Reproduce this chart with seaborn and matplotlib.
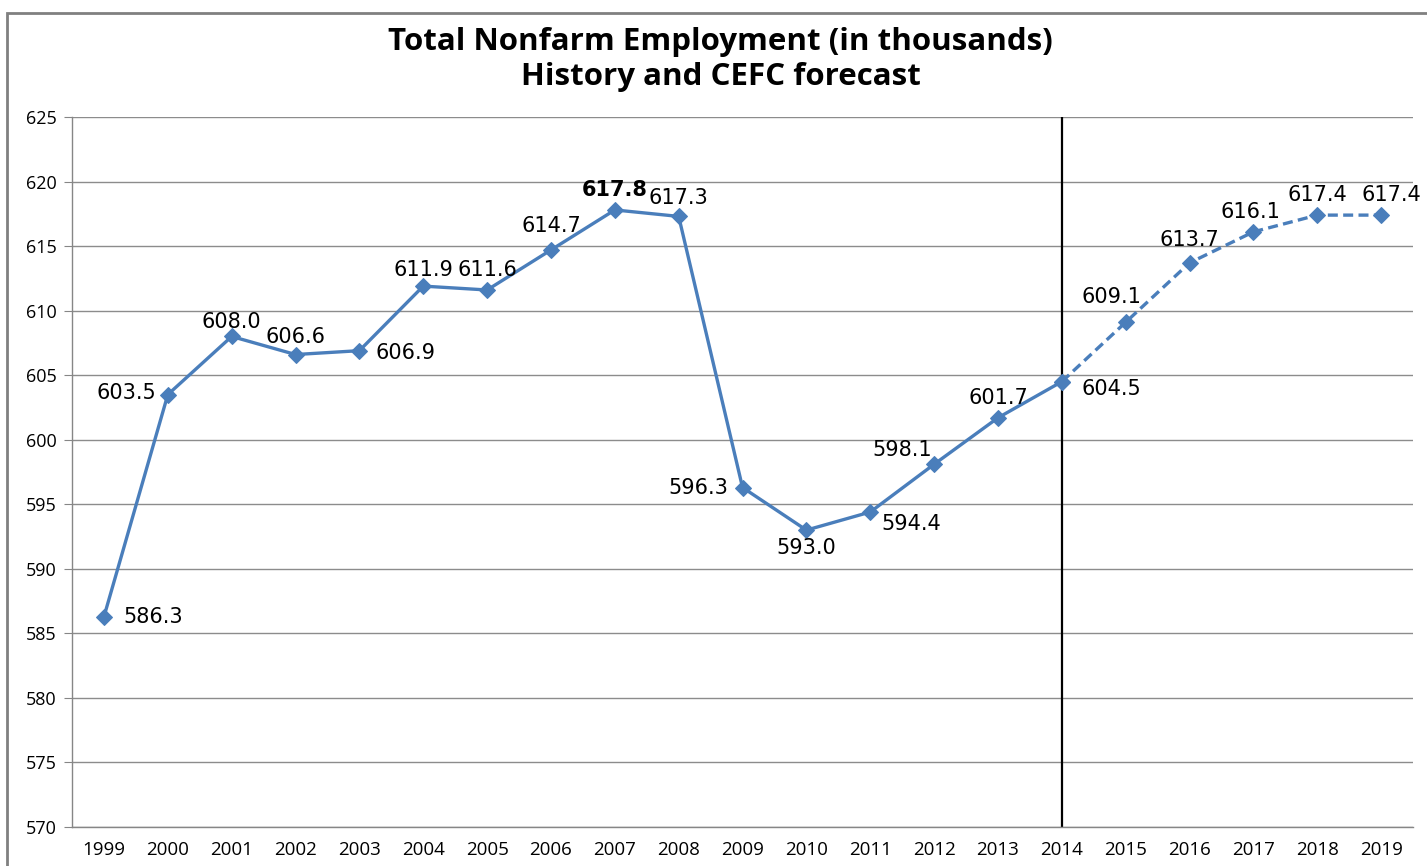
import numpy as np
import pandas as pd
import matplotlib
matplotlib.use("Agg")
import matplotlib.pyplot as plt
import seaborn as sns
from matplotlib.patches import Rectangle

# Data
years = [str(y) for y in range(1999, 2020)]
employment = [586.3, 603.5, 608.0, 606.6, 606.9, 611.9, 611.6, 614.7, 617.8, 617.3,
              596.3, 593.0, 594.4, 598.1, 601.7, 604.5, 609.1, 613.7, 616.1, 617.4, 617.4]
forecast_start = "2014"
y_ticks = list(range(570, 630, 5))

# label offsets in pixels (dx, dy, ha)
label_pos = [(19, 0, "left"), (-12, 2, "right"), (0, 14, "center"), (0, 18, "center"),
             (16, -2, "left"), (0, 16, "center"), (0, 20, "center"), (0, 24, "center"),
             (0, 20, "center"), (0, 18, "center"), (-14, 0, "right"), (0, -18, "center"),
             (11, -12, "left"), (-2, 14, "right"), (0, 20, "center"), (20, -7, "left"),
             (-14, 25, "center"), (0, 23, "center"), (-3, 20, "center"), (0, 20, "center"),
             (10, 20, "center")]

df = pd.DataFrame({"year": years, "value": employment})
df["pos"] = np.arange(len(df))
split = years.index(forecast_start)
hist = df.iloc[:split + 1]
fcst = df.iloc[split:]

sns.set_style("white")
plt.rcParams["font.family"] = ["Open Sans", "DejaVu Sans"]
plt.rcParams["text.color"] = "black"
plt.rcParams["xtick.color"] = "black"
plt.rcParams["ytick.color"] = "black"

fig = plt.figure(figsize=(14.27, 8.66), dpi=100)
ax = fig.add_axes([0.0505, 0.045, 0.9397, 0.8199])

color = "#4A7EBB"
sns.lineplot(data=hist, x="pos", y="value", ax=ax, color=color, linewidth=2.4,
             marker="D", markersize=8, markeredgecolor=color)
sns.lineplot(data=fcst, x="pos", y="value", ax=ax, color=color, linewidth=2.4,
             linestyle=(0, (3, 1.6)), marker="D", markersize=8, markeredgecolor=color)

ax.axvline(split, color="black", linewidth=1.6, zorder=1)

for i, (v, (dx, dy, ha)) in enumerate(zip(employment, label_pos)):
    weight = "bold" if v == max(employment) else "normal"
    ax.annotate(f"{v:.1f}", (i, v), xytext=(dx, dy), textcoords="offset pixels",
                ha=ha, va="center", fontsize=15, family="DejaVu Sans",
                fontweight=weight, color="black")

ax.set_xlim(-0.5, len(years) - 0.5)
ax.set_ylim(570, 625)
ax.set_yticks(y_ticks)
ax.set_yticklabels([str(t) for t in y_ticks], fontsize=13)
ax.set_xticks(df["pos"])
ax.set_xticklabels(years, fontsize=13.5)
ax.set_xticks(np.arange(-0.5, len(years)), minor=True)
ax.tick_params(axis="x", which="major", length=0, pad=10)
ax.tick_params(axis="x", which="minor", length=5, color="#868686", direction="out")
ax.tick_params(axis="y", length=6, color="#868686", labelcolor="black",
               direction="out", pad=5, left=True)
ax.tick_params(axis="x", labelcolor="black")
ax.grid(axis="y", color="#8C8C8C", linewidth=1)
ax.set_axisbelow(True)
ax.set_xlabel("")
ax.set_ylabel("")
for side in ["top", "right"]:
    ax.spines[side].set_visible(False)
for side in ["left", "bottom"]:
    ax.spines[side].set_color("#868686")
    ax.spines[side].set_linewidth(1)

fig.text(0.505, 0.951, "Total Nonfarm Employment (in thousands)", ha="center", va="center",
         fontsize=22.5, fontweight="bold", color="black")
fig.text(0.505, 0.911, "History and CEFC forecast", ha="center", va="center",
         fontsize=22.5, fontweight="bold", color="black")

fig.patches.append(Rectangle((7 / 1427, -0.01), 1.0, 0.995, transform=fig.transFigure,
                             fill=False, edgecolor="#808080", linewidth=2))

fig.savefig("out.png", dpi=100)
